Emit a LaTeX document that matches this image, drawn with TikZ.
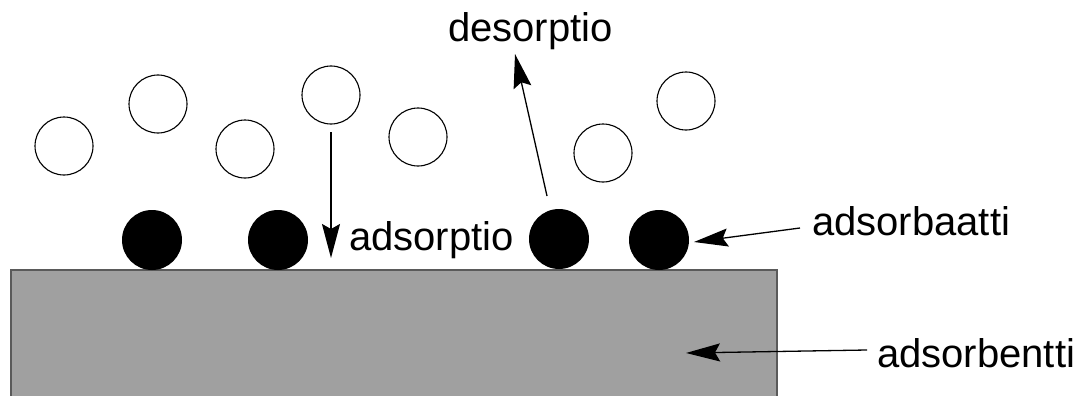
\documentclass[tikz,border=0pt]{standalone}
\usepackage{fontspec}
\setmainfont{Liberation Sans}
\usetikzlibrary{arrows.meta}
\tikzset{
  gas/.style={circle, draw, line width=1.1pt, minimum size=58pt, inner sep=0pt},
  ads/.style={circle, fill=black, minimum size=60pt, inner sep=0pt},
  lbl/.style={font=\fontsize{40}{48}\selectfont, inner sep=0pt, anchor=base west},
  arr/.style={line width=1.3pt, -{Stealth[length=34pt, width=18pt, inset=5pt]}}
}
\begin{document}
\begin{tikzpicture}[x=1pt, y=-1pt]
  \useasboundingbox (0,0) rectangle (1084,396);
  % adsorbent solid
  \draw[fill={rgb,255:red,160;green,160;blue,160}, draw={rgb,255:red,90;green,90;blue,90}, line width=1.8pt]
    (11,270) rectangle (777,400);
  % gas-phase molecules
  \node[gas] (g1) at (64,146) {};
  \node[gas] (g2) at (158,104) {};
  \node[gas] (g3) at (245,149) {};
  \node[gas] (g4) at (331,95) {};
  \node[gas] (g5) at (418,137) {};
  \node[gas] (g6) at (603,153) {};
  \node[gas] (g7) at (686,101) {};
  % adsorbed molecules
  \node[ads] (a1) at (152,240) {};
  \node[ads] (a2) at (278,240) {};
  \node[ads] (a3) at (559,239) {};
  \node[ads] (a4) at (659,240) {};
  % labels
  \node[lbl] (ldes) at (448,42) {desorptio};
  \node[lbl] (ladsp) at (349,250) {adsorptio};
  \node[lbl] (ladsb) at (812,235) {adsorbaatti};
  \node[lbl] (ladsn) at (877,367) {adsorbentti};
  % arrow end points
  \coordinate (adsA) at (331,132);
  \coordinate (adsB) at (331,258);
  \coordinate (desA) at (547,196);
  \coordinate (desB) at (515,54);
  \coordinate (sorbB) at (694,242);
  \coordinate (sorbentB) at (686,353);
  % arrows
  \draw[arr] (adsA) -- (adsB);
  \draw[arr] (desA) -- (desB);
  \draw[arr] ([xshift=-12pt]ladsb.west |- 0,228) -- (sorbB);
  \draw[arr] ([xshift=-10pt]ladsn.west |- 0,350) -- (sorbentB);
\end{tikzpicture}
\end{document}
